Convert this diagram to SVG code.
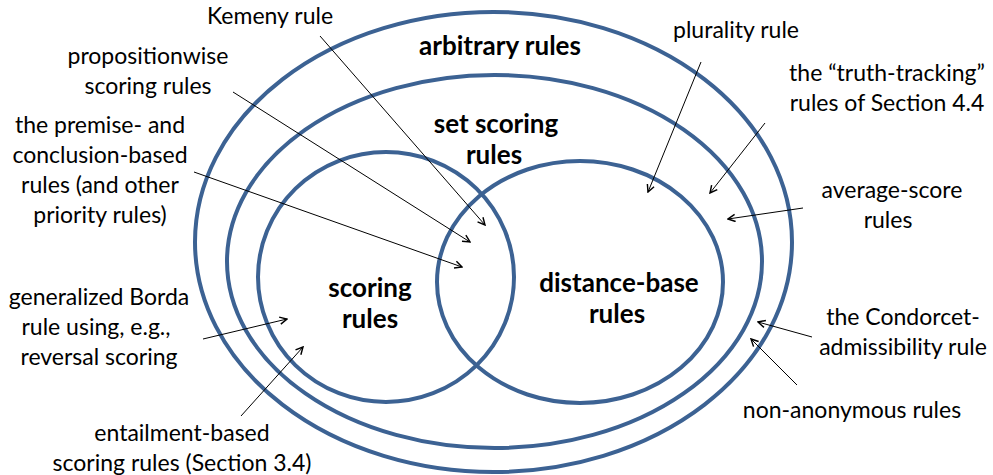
<svg xmlns="http://www.w3.org/2000/svg" width="993" height="475" viewBox="0 0 993 475">
<defs>
<style>
.set{fill:none;stroke:#3C6293;stroke-width:4}
.lbl{font-family:Lato,"Open Sans","Liberation Sans",sans-serif;font-size:23px;fill:#000;text-anchor:middle}
.big{font-family:Lato,"Open Sans","Liberation Sans",sans-serif;font-size:26px;font-weight:bold;fill:#000;text-anchor:middle}
.con{stroke:#000;stroke-width:1;fill:none;marker-end:url(#arr)}
</style>
<marker id="arr" viewBox="0 0 10 10" refX="9" refY="5" markerWidth="9" markerHeight="9" markerUnits="userSpaceOnUse" orient="auto">
<path d="M1,1 L9,5 L1,9" fill="none" stroke="#000" stroke-width="1.6"/>
</marker>
</defs>
<rect width="993" height="475" fill="#fff"/>
<g id="arbitrary">
<ellipse class="set" cx="493.5" cy="242" rx="298.5" ry="230"/>
<text class="big" x="500" y="55">arbitrary rules</text>
</g>
<g id="set-scoring">
<ellipse class="set" cx="494.5" cy="261.5" rx="267.5" ry="186.5"/>
<text class="big" x="496" y="133">set scoring</text>
<text class="big" x="494" y="164">rules</text>
</g>
<g id="scoring">
<ellipse class="set" cx="386" cy="277" rx="128" ry="125"/>
<text class="big" x="370" y="297">scoring</text>
<text class="big" x="370" y="328">rules</text>
</g>
<g id="distance-base">
<ellipse class="set" cx="580" cy="282" rx="143" ry="121"/>
<text class="big" x="619" y="292">distance-base</text>
<text class="big" x="617" y="323">rules</text>
</g>
<g id="labels">
<text class="lbl" x="270" y="24">Kemeny rule</text>
<text class="lbl" x="148" y="64">propositionwise</text>
<text class="lbl" x="148" y="94">scoring rules</text>
<text class="lbl" x="100" y="133">the premise- and</text>
<text class="lbl" x="100" y="163">conclusion-based</text>
<text class="lbl" x="100" y="193">rules (and other</text>
<text class="lbl" x="100" y="223">priority rules)</text>
<text class="lbl" x="99" y="305">generalized Borda</text>
<text class="lbl" x="96" y="335">rule using, e.g.,</text>
<text class="lbl" x="99" y="365">reversal scoring</text>
<text class="lbl" x="182" y="441">entailment-based</text>
<text class="lbl" x="182" y="471">scoring rules (Section 3.4)</text>
<text class="lbl" x="736" y="38">plurality rule</text>
<text class="lbl" x="887" y="81">the “truth-tracking”</text>
<text class="lbl" x="887" y="111">rules of Section 4.4</text>
<text class="lbl" x="892" y="198">average-score</text>
<text class="lbl" x="888" y="228">rules</text>
<text class="lbl" x="903" y="325">the Condorcet-</text>
<text class="lbl" x="903" y="355">admissibility rule</text>
<text class="lbl" x="852" y="418">non-anonymous rules</text>
</g>
<g id="connectors">
<line class="con" x1="320" y1="36" x2="485" y2="225"/>
<line class="con" x1="233" y1="92" x2="470" y2="242"/>
<line class="con" x1="194" y1="172" x2="462" y2="267"/>
<line class="con" x1="701" y1="62" x2="648" y2="192"/>
<line class="con" x1="765" y1="123" x2="710" y2="193"/>
<line class="con" x1="803" y1="208" x2="728" y2="219"/>
<line class="con" x1="203" y1="339" x2="287" y2="319"/>
<line class="con" x1="241" y1="416" x2="303" y2="347"/>
<line class="con" x1="812" y1="337" x2="758" y2="322"/>
<line class="con" x1="797" y1="385" x2="751" y2="339"/>
</g>
</svg>
